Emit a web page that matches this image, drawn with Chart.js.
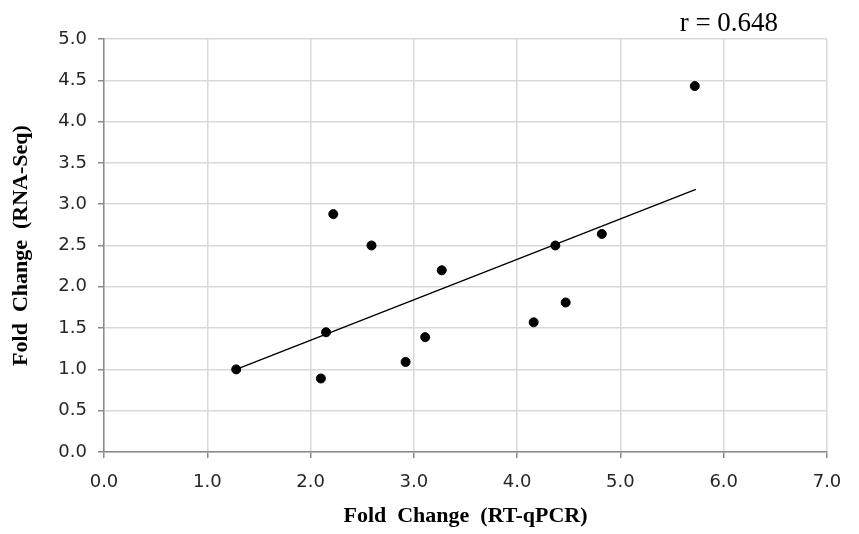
<!DOCTYPE html>
<html>
<head>
<meta charset="utf-8">
<script src="https://cdn.jsdelivr.net/npm/chart.js@4"></script>
<style>
  html, body { margin: 0; padding: 0; background: #fff; }
  #wrap { width: 859px; height: 534px; position: relative; }
</style>
</head>
<body>
<div id="wrap"><canvas id="grafico"></canvas></div>
<script>
// Dados
const qpcrValues = [1.28, 2.10, 2.15, 2.22, 2.59, 2.92, 3.11, 3.27, 4.16, 4.37, 4.47, 4.82, 5.72];
const rnaSeqValues = [1.00, 0.89, 1.45, 2.88, 2.50, 1.09, 1.39, 2.20, 1.57, 2.50, 1.81, 2.64, 4.43];
// Linha de tendência (extremos)
const trendX = [1.28, 5.73];
const trendY = [1.00, 3.18];
const rLabel = 'r = 0.648';
const xTitle = 'Fold  Change  (RT-qPCR)';
const yTitle = 'Fold  Change  (RNA-Seq)';

const pontos = qpcrValues.map((x, i) => ({ x: x, y: rnaSeqValues[i] }));
const tendencia = trendX.map((x, i) => ({ x: x, y: trendY[i] }));

// escreve o r acima do canto direito
const rTextPlugin = {
    id: 'rText',
    afterDraw(chart) {
        const ctx = chart.ctx;
        const xs = chart.scales.x;
        ctx.save();
        ctx.font = '27px "Liberation Serif", serif';
        ctx.fillStyle = '#000';
        ctx.textAlign = 'center';
        ctx.textBaseline = 'alphabetic';
        ctx.fillText(rLabel, xs.getPixelForValue(6.05), chart.chartArea.top - 8);
        ctx.restore();
    }
};

const ctx = document.getElementById('grafico').getContext('2d');
new Chart(ctx, {
    type: 'scatter',
    data: {
        datasets: [
            {
                data: pontos,
                backgroundColor: '#000',
                borderColor: '#000',
                pointRadius: 4.5,
                pointHoverRadius: 4.5
            },
            {
                type: 'line',
                data: tendencia,
                borderColor: '#000',
                borderWidth: 1.5,
                pointRadius: 0,
                fill: false
            }
        ]
    },
    options: {
        responsive: true,
        maintainAspectRatio: false,
        animation: false,
        layout: { padding: { top: 39, right: 32, left: 0, bottom: 0 } },
        plugins: {
            legend: { display: false },
            tooltip: { enabled: false }
        },
        scales: {
            x: {
                type: 'linear',
                min: 0,
                max: 7,
                afterFit(scale) { scale.height = 82; },
                border: { color: '#8a8a8a', width: 1.5 },
                grid: { color: '#d9d9d9', lineWidth: 1.5, tickColor: '#8a8a8a', tickLength: 6 },
                ticks: {
                    stepSize: 1,
                    color: '#262626',
                    padding: 14,
                    font: { family: '"DejaVu Sans", sans-serif', size: 18 },
                    callback: v => v.toFixed(1)
                },
                title: {
                    display: true,
                    text: xTitle,
                    color: '#000',
                    padding: { top: 4, bottom: 4 },
                    font: { family: '"Liberation Serif", serif', size: 22, weight: 'bold' }
                }
            },
            y: {
                min: 0,
                max: 5,
                afterFit(scale) { scale.width = 104; },
                border: { color: '#8a8a8a', width: 1.5 },
                grid: { color: '#d9d9d9', lineWidth: 1.5, tickColor: '#8a8a8a', tickLength: 6 },
                ticks: {
                    stepSize: 0.5,
                    color: '#262626',
                    padding: 11,
                    font: { family: '"DejaVu Sans", sans-serif', size: 18 },
                    callback: v => v.toFixed(1)
                },
                title: {
                    display: true,
                    text: yTitle,
                    color: '#000',
                    padding: { top: 8, bottom: 4 },
                    font: { family: '"Liberation Serif", serif', size: 22, weight: 'bold' }
                }
            }
        }
    },
    plugins: [rTextPlugin]
});
</script>
</body>
</html>
